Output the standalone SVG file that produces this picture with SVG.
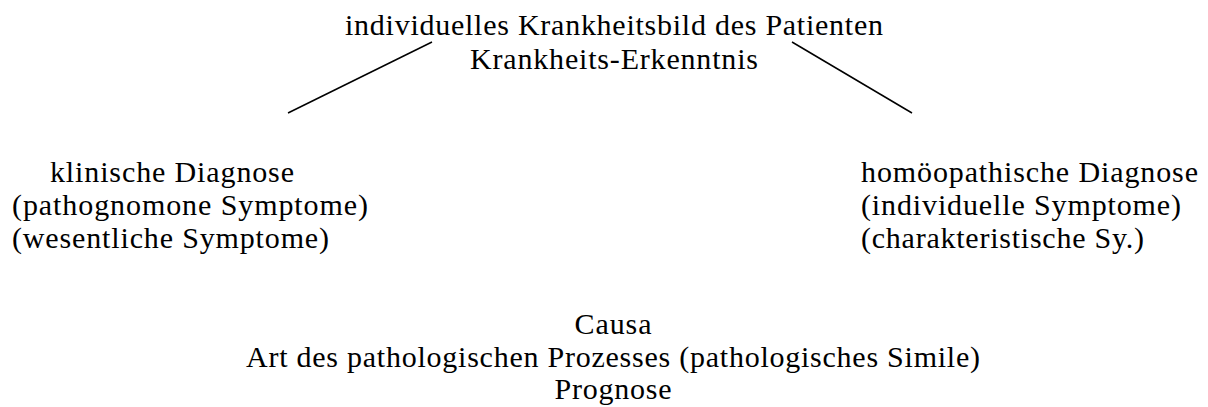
<svg xmlns="http://www.w3.org/2000/svg" width="1208" height="407" viewBox="0 0 1208 407">
<style>
text{font-family:"Liberation Serif","Times New Roman",serif;font-size:30px;fill:#000}
.c{text-anchor:middle}
line{stroke:#000;stroke-width:1.5}
</style>
<rect width="1208" height="407" fill="#fff"/>
<g id="top">
<text class="c" x="614" y="35" textLength="538">individuelles Krankheitsbild des Patienten</text>
<text class="c" x="614" y="69" textLength="288">Krankheits-Erkenntnis</text>
</g>
<g id="left">
<text x="50" y="182" textLength="244">klinische Diagnose</text>
<text x="12" y="215" textLength="356">(pathognomone Symptome)</text>
<text x="12" y="248" textLength="317">(wesentliche Symptome)</text>
</g>
<g id="right">
<text x="861" y="182" textLength="337">homöopathische Diagnose</text>
<text x="861" y="215" textLength="320">(individuelle Symptome)</text>
<text x="861" y="248" textLength="283">(charakteristische Sy.)</text>
</g>
<g id="bottom">
<text class="c" x="613" y="334" textLength="77">Causa</text>
<text class="c" x="613" y="367" textLength="734">Art des pathologischen Prozesses (pathologisches Simile)</text>
<text class="c" x="613" y="399" textLength="117">Prognose</text>
</g>
<g id="connectors">
<line x1="432" y1="42" x2="288" y2="113"/>
<line x1="792" y1="42" x2="912" y2="113"/>
</g>
</svg>
